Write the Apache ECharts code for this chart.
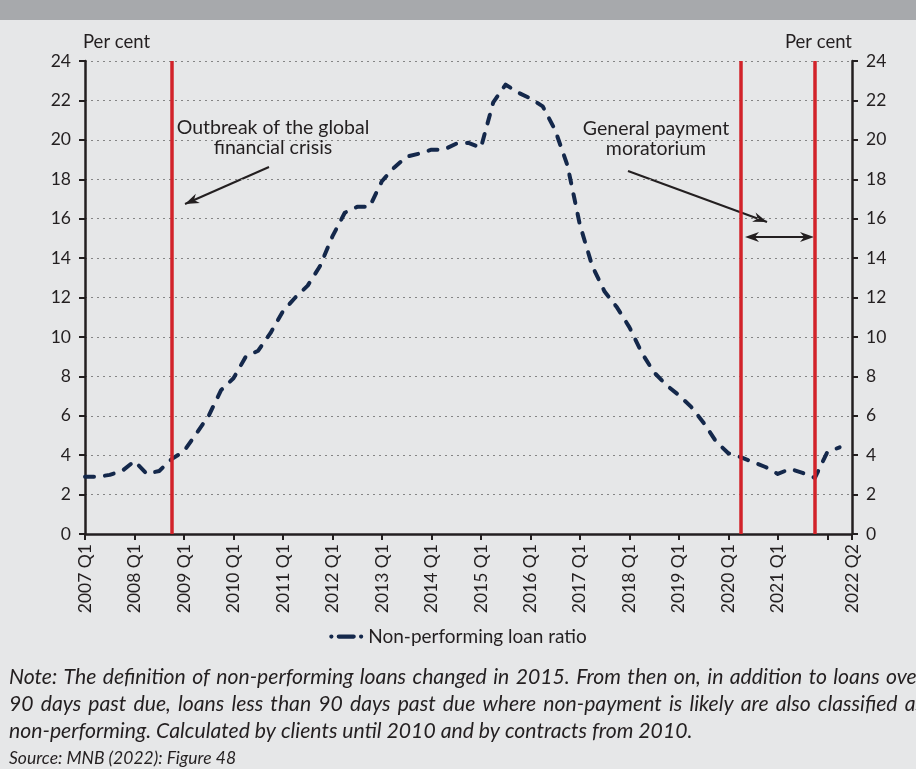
<!DOCTYPE html>
<html>
<head>
<meta charset="utf-8">
<script src="https://cdn.jsdelivr.net/npm/echarts@6/dist/echarts.min.js"></script>
<style>
html,body{margin:0;padding:0;background:#e6e7e8;}
#c{width:916px;height:769px;}
</style>
</head>
<body>
<div id="c"></div>
<script>
// ---- data ----
const years = [2007,2008,2009,2010,2011,2012,2013,2014,2015,2016,2017,2018,2019,2020,2021,2022];
const quarters = [];
years.forEach(y => { for (let q = 1; q <= 4; q++) { if (y === 2022 && q > 2) break; quarters.push(y + ' Q' + q); } });
const nplRatio = [2.9,2.9,3.0,3.2,3.7,3.05,3.2,3.8,4.2,5.1,
  6.0,7.3,7.9,9.0,9.3,10.2,11.3,12.0,12.6,13.6,
  15.1,16.3,16.6,16.6,17.9,18.6,19.15,19.3,19.5,19.5,
  19.8,19.85,19.6,21.9,22.8,22.4,22.1,21.7,20.5,18.7,
  15.7,13.6,12.3,11.5,10.5,9.2,8.2,7.55,7.05,6.45,
  5.65,4.7,4.1,3.9,3.65,3.4,3.05,3.3,3.1,2.85,
  4.15,4.4];
const eventQuarters = ['2008 Q4','2020 Q2','2021 Q4'];
const seriesName = 'Non-performing loan ratio';
const noteLines = [
  'Note: The definition of non-performing loans changed in 2015. From then on, in addition to loans over',
  '90 days past due, loans less than 90 days past due where non-payment is likely are also classified as',
  'non-performing. Calculated by clients until 2010 and by contracts from 2010.'
];
const sourceLine = 'Source: MNB (2022): Figure 48';

// ---- chart ----
const FONT = 'Lato';
const TXT = '#231f20';
const NAVY = '#14284b';
const axisCats = quarters.concat(['']);
const lastIdx = axisCats.length - 1;
const chart = echarts.init(document.getElementById('c'), null, {renderer:'canvas'});

function arrowHead(x1,y1,x2,y2,len,w){
  const a = Math.atan2(y2-y1,x2-x1);
  const cx = Math.cos(a), sx = Math.sin(a);
  const bx = x2 - cx*len, by = y2 - sx*len;
  const nx = x2 - cx*len*0.7, ny = y2 - sx*len*0.7;
  return {type:'polygon', shape:{points:[[x2,y2],[bx - sx*w/2, by + cx*w/2],[nx,ny],[bx + sx*w/2, by - cx*w/2]]}, style:{fill:TXT}};
}
function arrow(x1,y1,x2,y2){
  return [
    {type:'line', shape:{x1:x1,y1:y1,x2:x2,y2:y2}, style:{stroke:TXT, lineWidth:2}},
    arrowHead(x1,y1,x2,y2,14,10)
  ];
}
const g = [];
g.push({type:'rect', shape:{x:0,y:0,width:916,height:20}, style:{fill:'#a7a9ac'}});
g.push({type:'text', style:{x:83, y:42, text:'Per cent', font:'18.5px '+FONT, fill:TXT, align:'left', verticalAlign:'middle'}});
g.push({type:'text', style:{x:852, y:42, text:'Per cent', font:'18.5px '+FONT, fill:TXT, align:'right', verticalAlign:'middle'}});
const ANN = '19.5px ' + FONT;
g.push({type:'text', style:{x:273, y:128, text:'Outbreak of the global', font:ANN, fill:TXT, align:'center', verticalAlign:'middle'}});
g.push({type:'text', style:{x:273, y:148, text:'financial crisis', font:ANN, fill:TXT, align:'center', verticalAlign:'middle'}});
g.push({type:'text', style:{x:656, y:129, text:'General payment', font:ANN, fill:TXT, align:'center', verticalAlign:'middle'}});
g.push({type:'text', style:{x:656, y:149, text:'moratorium', font:ANN, fill:TXT, align:'center', verticalAlign:'middle'}});
arrow(269,167,185,204).forEach(e=>g.push(e));
arrow(628,171,767,222).forEach(e=>g.push(e));
g.push({type:'line', shape:{x1:750,y1:237,x2:809,y2:237}, style:{stroke:TXT, lineWidth:2}});
g.push(arrowHead(780,237,814,237,14,10));
g.push(arrowHead(780,237,745,237,14,10));

// justified note lines
const NOTEFONT = 'italic 21.2px ' + FONT;
const mctx = document.createElement('canvas').getContext('2d');
mctx.font = NOTEFONT;
noteLines.forEach((t,i)=>{
  const y = 677 + i*27;
  if (i < noteLines.length - 1) {
    const words = t.split(' ');
    const widths = words.map(w => mctx.measureText(w).width);
    const total = widths.reduce((a,b)=>a+b,0);
    const gap = (924 - 9 - total) / (words.length - 1);
    let x = 9;
    words.forEach((w,k)=>{
      g.push({type:'text', style:{x:x, y:y, text:w, font:NOTEFONT, fill:TXT, align:'left', verticalAlign:'middle'}});
      x += widths[k] + gap;
    });
  } else {
    g.push({type:'text', style:{x:9, y:y, text:t, font:NOTEFONT, fill:TXT, align:'left', verticalAlign:'middle'}});
  }
});
g.push({type:'text', style:{x:9, y:758, text:sourceLine, font:'italic 17.5px '+FONT, fill:TXT, align:'left', verticalAlign:'middle'}});

const yAxisCommon = {
  type:'value', min:0, max:24, interval:2,
  axisLine:{show:true, lineStyle:{color:TXT, width:2.5}},
  axisTick:{show:true, length:6, lineStyle:{color:TXT, width:2}},
  axisLabel:{color:TXT, fontFamily:FONT, fontSize:17.5, margin:14},
};

chart.setOption({
  animation:false,
  backgroundColor:'#e6e7e8',
  textStyle:{fontFamily:FONT},
  grid:{left:85, right:64, top:61, bottom:235, containLabel:false},
  legend:{
    data:[{name:seriesName, icon:'path://M2,0A2,2 0 1 1 2,4A2,2 0 1 1 2,0Z M9,0H23A2,2 0 0 1 23,4H9A2,2 0 0 1 9,0Z M30,0A2,2 0 1 1 30,4A2,2 0 1 1 30,0Z'}],
    top:622, left:'center',
    itemWidth:34, itemHeight:5, itemGap:4,
    itemStyle:{color:NAVY, borderWidth:0},
    lineStyle:{width:0},
    textStyle:{color:TXT, fontFamily:FONT, fontSize:19}
  },
  xAxis:{
    type:'category', data:axisCats, boundaryGap:false,
    axisLine:{show:true, lineStyle:{color:TXT, width:2.5}},
    axisTick:{show:true, length:6, lineStyle:{color:TXT, width:2}, interval:(i)=> i%4===0 || i===lastIdx},
    axisLabel:{
      rotate:90, color:TXT, fontFamily:FONT, fontSize:17.5, margin:10,
      interval:(i)=> (i%4===0 && i<=56) || i===lastIdx,
      formatter:(v,i)=> i===lastIdx ? quarters[quarters.length-1] : v
    },
    splitLine:{show:false}
  },
  yAxis:[
    Object.assign({}, yAxisCommon, {position:'left',
      splitLine:{show:true, lineStyle:{color:'#858585', width:1.2, type:[2,4]}}}),
    Object.assign({}, yAxisCommon, {position:'right', splitLine:{show:false}})
  ],
  series:[{
    name:seriesName, type:'line', data:nplRatio, yAxisIndex:0,
    symbol:'none', showSymbol:false, smooth:false,
    lineStyle:{color:NAVY, width:4, type:[9,11], cap:'round', join:'round'},
    itemStyle:{color:NAVY},
    markLine:{
      silent:true, symbol:['none','none'], label:{show:false},
      lineStyle:{color:'#d2232a', width:3.5, type:'solid'},
      data: eventQuarters.map(q=>({xAxis:q}))
    },
    z:3
  }],
  graphic:g
});
</script>
</body>
</html>
